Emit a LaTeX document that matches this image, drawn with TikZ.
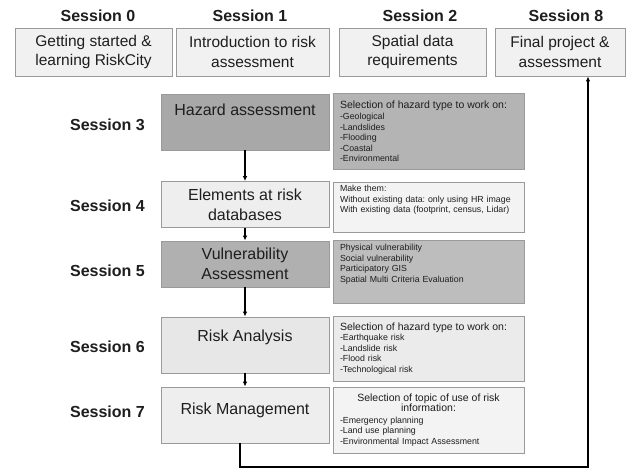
\documentclass[tikz,border=0pt]{standalone}
\usepackage{fontspec}
\setmainfont{Liberation Sans}
\frenchspacing
\usetikzlibrary{arrows.meta}
\definecolor{boxline}{HTML}{9A9A9A}
\definecolor{txt}{HTML}{1E1E1E}
\definecolor{topfill}{HTML}{F1F1F1}
\definecolor{darkA}{HTML}{A8A8A8}
\definecolor{darkB}{HTML}{B4B4B4}
\definecolor{darkC}{HTML}{B0B0B0}
\definecolor{darkD}{HTML}{BDBDBD}
\definecolor{lightA}{HTML}{EEEEEE}
\definecolor{lightB}{HTML}{F3F3F3}
\definecolor{lightC}{HTML}{E7E7E7}
\definecolor{lightD}{HTML}{EBEBEB}
\begin{document}
\begin{tikzpicture}[x=1pt,y=-1pt,
  box/.style={draw=boxline, line width=0.8pt, inner sep=0pt, align=center, text=txt},
  topbox/.style={box, fill=topfill, minimum height=48pt, font=\fontsize{15.5}{19.5}\selectfont},
  leftbox/.style={box, minimum width=168pt, font=\fontsize{16}{20}\selectfont},
  rbox/.style={box, minimum width=191pt, text width=177pt, align=left, inner xsep=7pt, font=\fontsize{8.8}{10.5}\selectfont},
  sess/.style={text=txt, font=\fontsize{16}{19}\selectfont\bfseries, inner sep=0pt},
  flow/.style={line width=1.4pt, -{Latex[length=5pt,width=4.5pt]}},
  back/.style={line width=1.8pt, -{Latex[length=5pt,width=4.5pt]}}
]
\useasboundingbox (0,0) rectangle (630,470);
\fill[white] (0,0) rectangle (630,470);

% top row
\node[sess] (l0) at (98,16) {Session 0};
\node[sess] (l1) at (250,16) {Session 1};
\node[sess] (l2) at (420,16) {Session 2};
\node[sess] (l8) at (566,16) {Session 8};

\node[topbox, minimum width=157pt] (s0) at (93.5,52) {Getting started \&\\learning RiskCity};
\node[topbox, minimum width=153pt] (s1) at (252.5,52) {Introduction to risk\\assessment};
\node[topbox, minimum width=147pt] (s2) at (412.5,52) {Spatial data\\requirements};
\node[topbox, minimum width=130pt] (s8) at (560,52) {Final project \&\\assessment};

% left session labels
\node[sess, anchor=east] (l3) at (145,125) {Session 3};
\node[sess, anchor=east] (l4) at (145,206) {Session 4};
\node[sess, anchor=east] (l5) at (145,271) {Session 5};
\node[sess, anchor=east] (l6) at (145,347) {Session 6};
\node[sess, anchor=east] (l7) at (145,412) {Session 7};

% main column
\node[leftbox, fill=darkA, minimum height=56pt, text depth=25pt] (hz) at (245,122) {Hazard assessment};
\node[leftbox, fill=lightA, minimum height=46pt] (el) at (245,204.5) {Elements at risk\\databases};
\node[leftbox, fill=darkC, minimum height=46pt] (vu) at (245,264) {Vulnerability\\Assessment};
\node[leftbox, fill=lightC, minimum height=56pt, text depth=19pt] (ra) at (245,345) {Risk Analysis};
\node[leftbox, fill=lightA, minimum height=56pt, text depth=13pt] (rm) at (245,415) {Risk Management};

% right column
\node[rbox, fill=darkB, minimum height=76pt] (hzr) at (428.5,131)
  {{\fontsize{10.5}{12}\selectfont Selection of hazard type to work on:}\\[1pt]
   -Geological\\-Landslides\\-Flooding\\-Coastal\\-Environmental};
\node[rbox, fill=lightB, minimum height=50pt] (elr) at (428.5,207)
  {Make them:\\Without existing data: only using HR image\\With existing data (footprint, census, Lidar)\\[5pt]\mbox{}};
\node[rbox, fill=darkD, minimum height=63pt] (vur) at (428.5,271.5)
  {Physical vulnerability\\Social vulnerability\\Participatory GIS\\Spatial Multi Criteria Evaluation\\[6pt]\mbox{}};
\node[rbox, fill=lightD, minimum height=65pt] (rar) at (428.5,348.5)
  {{\fontsize{10.5}{12}\selectfont Selection of hazard type to work on:}\\[0pt]
   -Earthquake risk\\-Landslide risk\\-Flood risk\\-Technological risk};
\node[rbox, fill=lightB, minimum height=66pt] (rmr) at (428.5,420)
  {{\fontsize{10.5}{12}\selectfont\makebox[177pt][c]{Selection of topic of use of risk}}\\
   {\fontsize{10.5}{12}\selectfont\makebox[177pt][c]{information:}}\\[1pt]
   -Emergency planning\\-Land use planning\\-Environmental Impact Assessment};

% flow arrows
\draw[flow] (hz) -- (el);
\draw[flow] (el) -- (vu);
\draw[flow] (vu) -- (ra);
\draw[flow] (ra) -- (rm);

% return connector
\coordinate (c) at (588,467);
\draw[back] ([xshift=-5pt]rm.south) -- ([xshift=-5pt]rm.south |- c) -- (c) -- (c |- s8.south);
\end{tikzpicture}
\end{document}
